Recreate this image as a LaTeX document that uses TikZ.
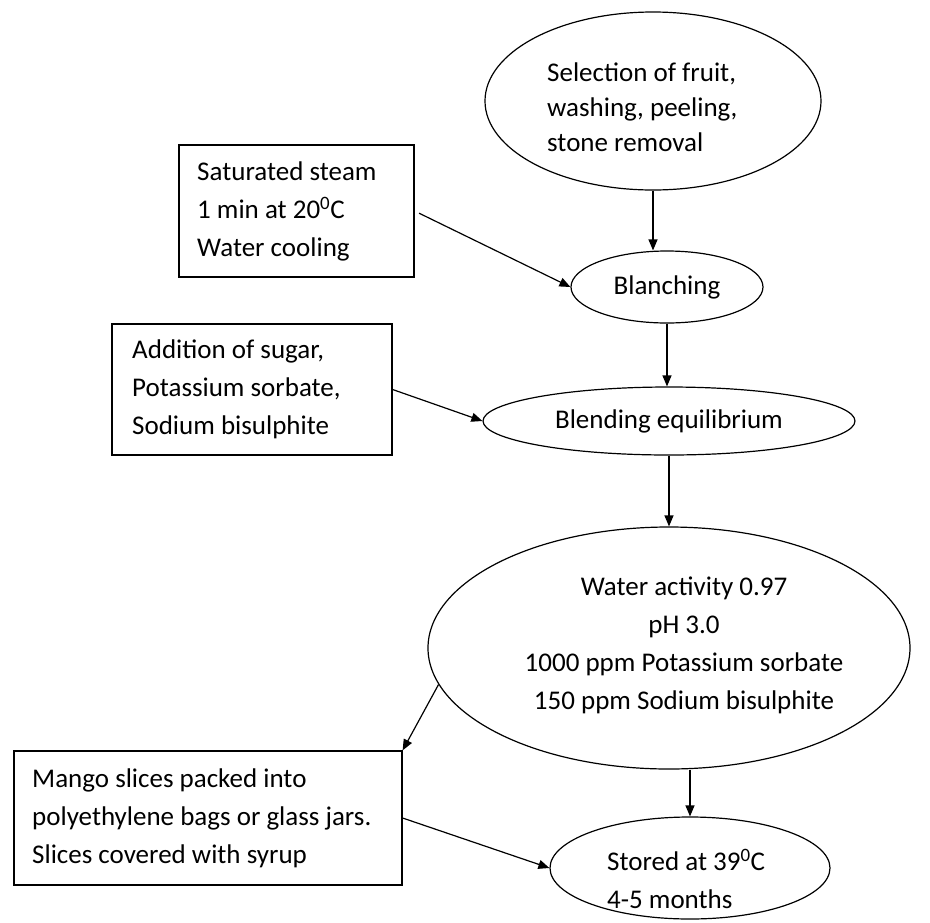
\documentclass[tikz,border=0pt]{standalone}
\usepackage{fontspec}
\setmainfont{Carlito}
\usetikzlibrary{shapes.geometric,arrows.meta}
\begin{document}
\begin{tikzpicture}[x=1pt,y=-1pt,
  every node/.style={font=\fontsize{27}{38}\selectfont},
  oval/.style={draw, ellipse, inner sep=0pt, line width=1.2pt},
  txtbox/.style={draw, rectangle, line width=1.2pt, inner sep=0pt, anchor=center},
  txt/.style={inner sep=0pt},
  flow/.style={-{Triangle[length=11pt,width=9pt]}, line width=1.2pt}]
\useasboundingbox (0,0) rectangle (930,922);

% ellipses
\node[oval, minimum width=336pt, minimum height=178pt] (sel) at (653,101) {};
\node[txt, anchor=west, align=left, font=\fontsize{27}{35}\selectfont] (selT) at (547,107)
  {Selection of fruit,\\washing, peeling,\\stone removal};
\node[oval, minimum width=192pt, minimum height=72pt] (blanch) at (667,287) {Blanching};
\node[oval, minimum width=372pt, minimum height=68pt] (blend) at (669,421) {Blending equilibrium};
\node[oval, minimum width=482pt, minimum height=242pt] (big) at (669,648) {};
\node[txt, align=center] (bigT) at (684,645)
  {Water activity 0.97\\pH 3.0\\1000 ppm Potassium sorbate\\150 ppm Sodium bisulphite};
\node[oval, minimum width=280pt, minimum height=102pt] (stored) at (690,868) {};
\node[txt, anchor=west, align=left] (storedT) at (607,879)
  {Stored at 39\textsuperscript{0}C\\4-5 months};

% boxes
\node[txtbox, minimum width=235pt, minimum height=132pt] (steam) at (296.5,211) {};
\node[txt, anchor=west, align=left] (steamT) at (197,211)
  {Saturated steam\\1 min at 20\textsuperscript{0}C\\Water cooling};
\node[txtbox, minimum width=280pt, minimum height=131pt] (add) at (252,389.5) {};
\node[txt, anchor=west, align=left] (addT) at (132,389.5)
  {Addition of sugar,\\Potassium sorbate,\\Sodium bisulphite};
\node[txtbox, minimum width=388pt, minimum height=134pt] (mango) at (208,818) {};
\node[txt, anchor=west, align=left] (mangoT) at (32,818)
  {Mango slices packed into\\polyethylene bags or glass jars.\\Slices covered with syrup};

% connectors
\draw[flow] (sel.south) -- (sel.south |- blanch.north);
\draw[flow] (blanch.south) -- (blanch.south |- blend.north);
\draw[flow] (blend.south) -- (big.north);
\draw[flow] (big.south -| stored.north) -- (stored.north);
\draw[flow, shorten <=5pt] (steam.east) -- (blanch.west);
\draw[flow] (add.east) -- (blend.west);
\draw[flow] (big.189) -- (mango.north east);
\draw[flow] (mango.east) -- (stored.west);
\end{tikzpicture}
\end{document}
